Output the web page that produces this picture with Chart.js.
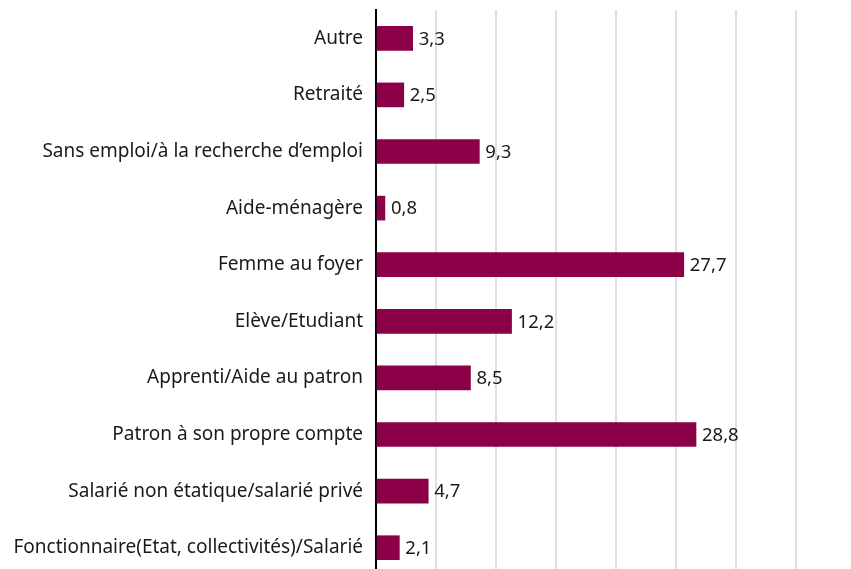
<!DOCTYPE html>
<html>
<head>
<meta charset="utf-8">
<script src="https://cdn.jsdelivr.net/npm/chart.js@4/dist/chart.umd.min.js"></script>
<style>
  html, body { margin: 0; padding: 0; background: #fff; overflow: hidden; }
  #wrap { position: relative; width: 851px; height: 576px; }
</style>
</head>
<body>
<div id="wrap"><canvas id="chart-canvas"></canvas></div>
<script>
// categories, top to bottom
var categories = [
    "Autre",
    "Retraité",
    "Sans emploi/à la recherche d\u2019emploi",
    "Aide-ménagère",
    "Femme au foyer",
    "Elève/Etudiant",
    "Apprenti/Aide au patron",
    "Patron à son propre compte",
    "Salarié non étatique/salarié privé",
    "Fonctionnaire(Etat, collectivités)/Salarié"
];
var values = [3.3, 2.5, 9.3, 0.8, 27.7, 12.2, 8.5, 28.8, 4.7, 2.1];

var xMax = 42.75;
var gridStep = 5.4;

var FONT = "'Noto Sans', sans-serif";

// value labels at the end of each bar, with a decimal comma
var valueLabels = {
    id: 'valueLabels',
    afterDatasetsDraw: function (chart) {
        var ctx = chart.ctx;
        var meta = chart.getDatasetMeta(0);
        ctx.save();
        ctx.font = "18.5px " + FONT;
        ctx.fillStyle = "#1a1a1a";
        ctx.textAlign = "left";
        ctx.textBaseline = "middle";
        meta.data.forEach(function (bar, i) {
            var txt = values[i].toFixed(1).replace('.', ',');
            ctx.fillText(txt, bar.x + 6, bar.y + 1);
        });
        ctx.restore();
    }
};

var ctx = document.getElementById('chart-canvas').getContext('2d');
var myChart = new Chart(ctx, {
    type: 'bar',
    data: {
        labels: categories,
        datasets: [{
            data: values,
            backgroundColor: "#8b0046",
            borderWidth: 0,
            barThickness: 24
        }]
    },
    options: {
        indexAxis: 'y',
        responsive: true,
        maintainAspectRatio: false,
        animation: false,
        layout: { padding: { top: 10, left: 0, right: 0, bottom: 0 } },
        plugins: {
            legend: { display: false },
            tooltip: { enabled: false }
        },
        scales: {
            x: {
                min: 0,
                max: xMax,
                ticks: { display: false, stepSize: gridStep },
                border: { display: false },
                grid: {
                    drawTicks: false,
                    lineWidth: 2,
                    color: function (c) {
                        if (!c.tick || c.tick.value === 0 || c.tick.value > 40) return 'rgba(0,0,0,0)';
                        return '#dcdfe4';
                    }
                }
            },
            y: {
                afterFit: function (scale) {
                    scale.width = 376;
                    scale.paddingTop = 0;
                    scale.paddingBottom = 0;
                },
                grid: { display: false, drawTicks: false },
                border: { display: true, color: '#000', width: 2 },
                ticks: {
                    padding: 13,
                    color: '#1a1a1a',
                    font: { family: FONT, size: 19 }
                }
            }
        }
    },
    plugins: [valueLabels]
});
</script>
</body>
</html>
